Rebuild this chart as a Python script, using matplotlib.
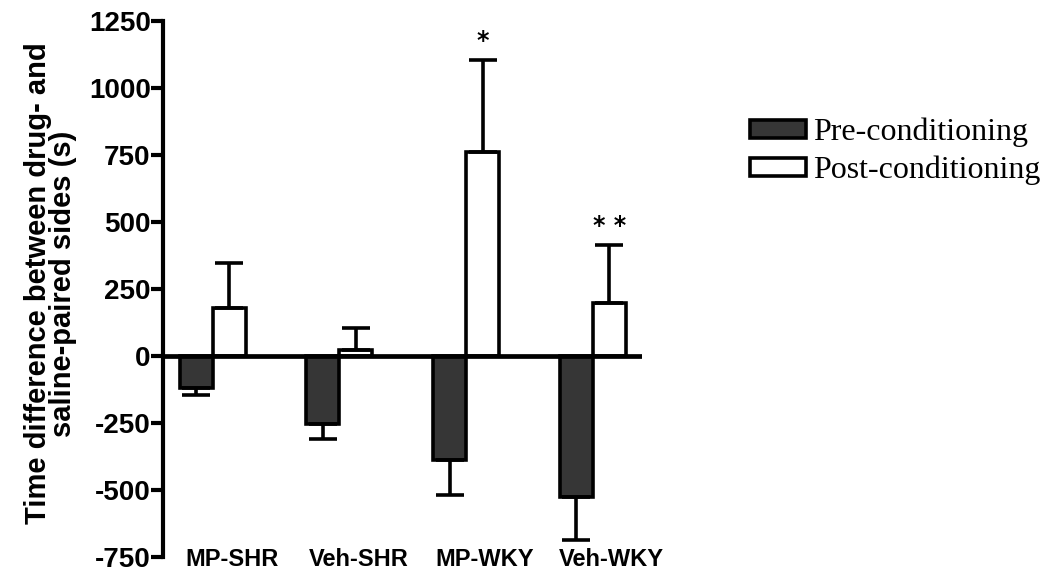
import numpy as np
import matplotlib
matplotlib.use("Agg")
from matplotlib import pyplot as plt

plt.rcParams["axes.unicode_minus"] = False

groups = ["MP-SHR", "Veh-SHR", "MP-WKY", "Veh-WKY"]
pre_mean = [-120, -255, -390, -527]
pre_err = [27, 55, 128, 160]
post_mean = [177, 22, 762, 197]
post_err = [170, 82, 343, 217]
stars = ["", "", "*", "* *"]

fig = plt.figure(figsize=(10.46, 5.76), dpi=100)
ax = fig.add_axes([0.156, 0.033, 0.458, 0.931])

x = np.arange(len(groups))
w = 0.26
lw = 2.6

ax.bar(x - w / 2, pre_mean, w, color="#363636", edgecolor="black", linewidth=lw,
       yerr=[pre_err, [0] * 4], error_kw=dict(ecolor="black", elinewidth=lw,
                                              capsize=10, capthick=lw),
       label="Pre-conditioning", zorder=2)
ax.bar(x + w / 2, post_mean, w, color="white", edgecolor="black", linewidth=lw,
       yerr=[[0] * 4, post_err], error_kw=dict(ecolor="black", elinewidth=lw,
                                               capsize=10, capthick=lw),
       label="Post-conditioning", zorder=2)

# significance marks
for i in range(len(groups)):
    if stars[i]:
        ax.text(x[i] + w / 2, post_mean[i] + post_err[i] + 25, stars[i],
                ha="center", va="bottom", fontsize=17, fontweight="bold")

ax.axhline(0, color="black", linewidth=3.4, zorder=3)

ax.set_xlim(-0.39, 3.39)
ax.set_ylim(-750, 1250)
ax.set_yticks(np.arange(-750, 1251, 250))
ax.set_xticks([])
for s in ["top", "right", "bottom"]:
    ax.spines[s].set_visible(False)
ax.spines["left"].set_linewidth(3)
ax.tick_params(axis="y", length=9, width=3, labelsize=20, pad=0)
for t in ax.get_yticklabels():
    t.set_fontweight("bold")
    t.set_family("Liberation Sans")

for i, g in enumerate(groups):
    ax.text(x[i] + 0.15, -758, g, ha="center", va="center", fontsize=17,
            fontweight="bold", family="Liberation Sans")

ax.set_ylabel("Time difference between drug- and\nsaline-paired sides (s)",
              fontsize=21, fontweight="bold", family="Liberation Sans",
              linespacing=0.85)
ax.yaxis.set_label_coords(-0.18, 0.51)

fig.legend(loc="upper left", bbox_to_anchor=(0.69, 0.846), frameon=False,
           prop={"family": "Liberation Serif", "size": 23},
           handlelength=1.75, handleheight=0.5, handletextpad=0.2,
           labelspacing=0.27)

fig.savefig("out.png", dpi=100)
